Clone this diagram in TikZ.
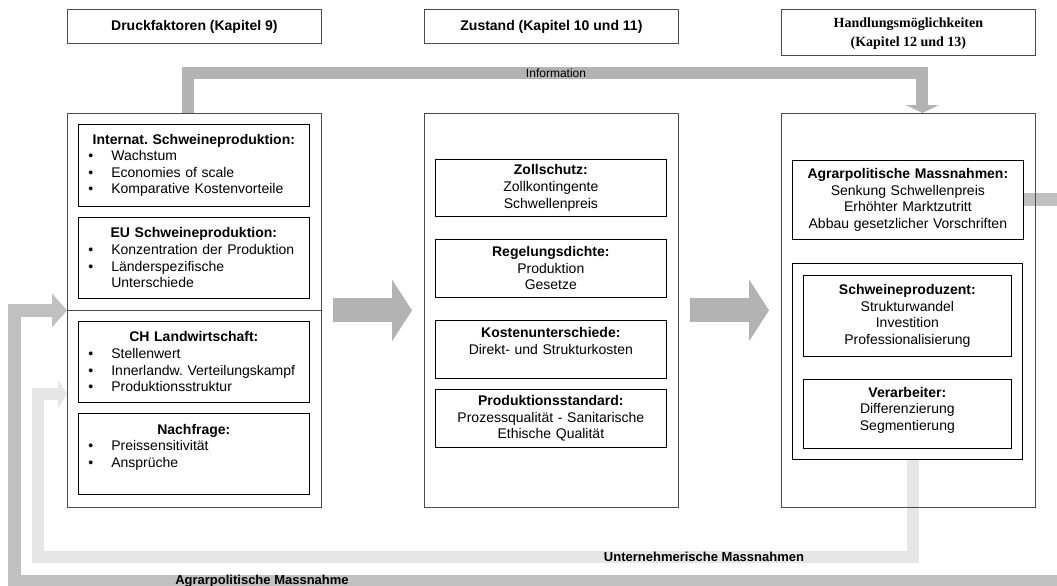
\documentclass[tikz,border=0pt]{standalone}
\usepackage{fontspec}
\setmainfont{Liberation Sans}
\newfontfamily\serifhead{Liberation Serif}
\usetikzlibrary{arrows.meta}
\pgfdeclarelayer{background}
\pgfsetlayers{background,main}
\frenchspacing

\definecolor{bandGray}{HTML}{B3B3B3}
\definecolor{agrarGray}{HTML}{C0C0C0}
\definecolor{firmGray}{HTML}{E6E6E6}

% bullet line, and its continuation line
\newcommand{\bitem}[1]{\par\noindent\hspace*{6pt}\makebox[23pt][l]{\textbullet}#1}
\newcommand{\bcont}[1]{\par\noindent\hspace*{29pt}#1}

\begin{document}
\begin{tikzpicture}
[x=1pt,y=-1pt,
  headDecorate/.style={draw=black!70,line width=0.8pt,anchor=north west,minimum width=254pt,
    minimum height=34pt,inner sep=0pt,font=\fontsize{14}{17}\selectfont\bfseries},
  frameDecorate/.style={draw=black!70,line width=0.8pt,anchor=north west,minimum width=254pt,
    minimum height=394pt,inner sep=0pt},
  listDecorate/.style={draw,line width=0.7pt,anchor=north west,fill=white,text width=223pt,
    inner xsep=4pt,inner ysep=0pt,align=left,font=\fontsize{14}{16.6}\selectfont},
  textDecorate/.style={draw,line width=0.7pt,anchor=north west,fill=white,text width=223pt,
    inner xsep=4pt,inner ysep=0pt,align=center,font=\fontsize{14}{16.6}\selectfont},
  infoBand/.style={draw=bandGray,line width=12pt,-{Triangle[length=8pt,width=33pt,line width=0pt]}},
  flowArrow/.style={draw=bandGray,line width=24pt,-{Triangle[length=20pt,width=62pt,line width=0pt]}},
  agrarBand/.style={draw=agrarGray,line width=13pt,-{Triangle[length=15pt,width=34pt,line width=0pt]}},
  firmBand/.style={draw=firmGray,line width=12pt,-{Triangle[length=9pt,width=28pt,line width=0pt]}},
  bandLabel/.style={font=\fontsize{13}{15}\selectfont\bfseries,inner sep=0pt}]
\useasboundingbox (0,0) rectangle (1057,586);

%% headers
\node[headDecorate] (hdrk) at (67,9) {Druckfaktoren (Kapitel 9)};
\node[headDecorate] (hzst) at (424,9) {Zustand (Kapitel 10 und 11)};
\node[headDecorate,minimum height=46pt,align=center,
  font=\serifhead\fontsize{14}{19}\selectfont\bfseries] (hhdl) at (781,9)
  {\rule{0pt}{13pt}Handlungsmöglichkeiten\\(Kapitel 12 und 13)};

%% column frames
\foreach \nodename/\x in {drk/67, zst/424, hdl/781}
{
  \node[frameDecorate] (\nodename) at (\x,113) {};
}
\draw[black!70,line width=0.8pt] (drk.west) -- (drk.east);

%% Druckfaktoren
\node[listDecorate,minimum height=82pt] (intl) at (78,124)
  {\centerline{\bfseries Internat. Schweineproduktion:}%
   \bitem{Wachstum}\bitem{Economies of scale}\bitem{Komparative Kostenvorteile}};
\node[listDecorate,minimum height=81pt] (eupr) at (78,217)
  {\centerline{\bfseries EU Schweineproduktion:}%
   \bitem{Konzentration der Produktion}\bitem{Länderspezifische}\bcont{Unterschiede}};
\node[listDecorate,minimum height=81pt] (chlw) at (78,321)
  {\centerline{\bfseries CH Landwirtschaft:}%
   \bitem{Stellenwert}\bitem{Innerlandw. Verteilungskampf}\bitem{Produktionsstruktur}};
\node[listDecorate,minimum height=81pt] (nachf) at (78,413)
  {\centerline{\bfseries Nachfrage:}%
   \bitem{Preissensitivität}\bitem{Ansprüche}\bcont{\mbox{}}};

%% Zustand
\node[textDecorate,minimum height=57pt] (zoll) at (435,159)
  {\textbf{Zollschutz:}\\Zollkontingente\\Schwellenpreis};
\node[textDecorate,minimum height=58pt] (regel) at (435,239)
  {\textbf{Regelungsdichte:}\\Produktion\\Gesetze};
\node[textDecorate,minimum height=58pt] (kost) at (435,320)
  {\textbf{Kostenunterschiede:}\\Direkt- und Strukturkosten\\\mbox{}};
\node[textDecorate,minimum height=58pt] (pstd) at (435,389)
  {\textbf{Produktionsstandard:}\\Prozessqualität - Sanitarische\\Ethische Qualität};

%% Handlungsmoeglichkeiten
\node[textDecorate,minimum height=79pt] (agr) at (792,160)
  {\textbf{Agrarpolitische Massnahmen:}\\Senkung Schwellenpreis\\Erhöhter Marktzutritt\\
   Abbau gesetzlicher Vorschriften};
\node[draw,line width=0.7pt,anchor=north west,minimum width=230pt,minimum height=196pt,
  inner sep=0pt] (pfr) at (792,263) {};
\node[textDecorate,text width=200pt,minimum height=81pt] (swp) at (803,275)
  {\textbf{Schweineproduzent:}\\Strukturwandel\\Investition\\Professionalisierung};
\node[textDecorate,text width=200pt,minimum height=69pt] (verarb) at (803,379)
  {\textbf{Verarbeiter:}\\Differenzierung\\Segmentierung\\[-6pt]\mbox{}};

%% band labels
\node[font=\fontsize{12}{14}\selectfont,inner sep=0pt] (info) at (556,73) {Information};
\node[bandLabel] (firmlab) at (704,557) {Unternehmerische Massnahmen};
\node[bandLabel] (agrlab) at (262,581) {Agrarpolitische Massnahme};

%% bands and arrows
\coordinate (agrR) at (1066,581);
\coordinate (agrL) at (14.5,581);
\coordinate (firmL) at (38,557);
\coordinate (firmIn) at (67,394);
\begin{pgfonlayer}{background}
\begin{scope}
\clip (0,0) rectangle (1057,586);
\draw[infoBand] ([xshift=-6pt]drk.north) -- ++(0,-40) -| ([xshift=14pt]hdl.north);
\draw[flowArrow] ([xshift=11pt]drk.east) -- ([xshift=-12pt]zst.west);
\draw[flowArrow] ([xshift=11pt]zst.east) -- ([xshift=-12pt]hdl.west);
\draw[agrarBand] (agr.east) -| (agrR) -- (agrL) |- (drk.west);
\draw[firmBand] ([xshift=6pt]pfr.south) |- (firmL) |- (firmIn);
\end{scope}
\end{pgfonlayer}
\end{tikzpicture}
\end{document}
